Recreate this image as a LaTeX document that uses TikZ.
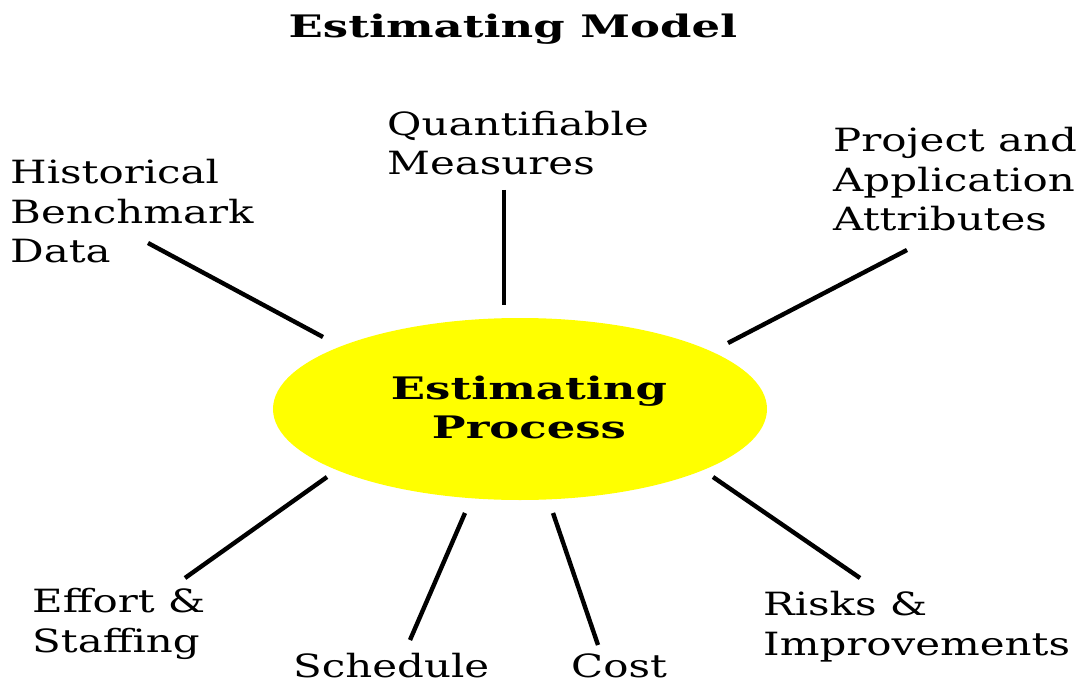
\documentclass[tikz,border=0pt]{standalone}
\usepackage{fontspec}
\usetikzlibrary{shapes.geometric}
\newfontfamily\labfont[FakeStretch=1.31]{DejaVu Serif}
\newfontfamily\headfont[FakeStretch=1.45]{DejaVu Serif Bold}
\definecolor{procyellow}{RGB}{255,255,0}
\begin{document}
\begin{tikzpicture}[x=1pt,y=-1pt,
  lab/.style={anchor=base west,inner sep=0pt,align=left,text depth=0pt,
    font=\labfont\fontsize{32}{39.5}\selectfont},
  head/.style={inner sep=0pt,align=center,
    font=\headfont\fontsize{31}{39}\selectfont},
  spoke/.style={line width=4.4pt}]
\useasboundingbox (0,0) rectangle (1091,684);
% title
\node[head,anchor=base] (title) at (513,38) {Estimating Model};
% central process
\node[ellipse,fill=procyellow,minimum width=494pt,minimum height=182pt,inner sep=0pt]
  (proc) at (520,409) {};
\node[head,anchor=base] (proctxt) at (529,438) {Estimating\\Process};
% inputs and outputs (anchored at the baseline of the last line)
\node[lab] (hist) at (10,263) {Historical\\Benchmark\\Data};
\node[lab] (quant) at (387,175) {Quantifiable\\Measures};
\node[lab] (proj) at (833,231) {Project and\\Application\\Attributes};
\node[lab] (effort) at (32,652) {Effort \&\\Staffing};
\node[lab] (sched) at (293,677) {Schedule};
\node[lab] (cost) at (571,677) {Cost};
\node[lab] (risks) at (763,655) {Risks \&\\Improvements};
% spoke end points
\coordinate (hist-e) at (148,243);  \coordinate (hist-p) at (323,337);
\coordinate (quant-e) at (504,190); \coordinate (quant-p) at (504,305);
\coordinate (proj-e) at (907,250);  \coordinate (proj-p) at (728,343);
\coordinate (effort-e) at (185,578);\coordinate (effort-p) at (327,477);
\coordinate (sched-e) at (410,640); \coordinate (sched-p) at (465,513);
\coordinate (cost-e) at (598,645);  \coordinate (cost-p) at (553,513);
\coordinate (risks-e) at (860,578); \coordinate (risks-p) at (713,477);
\foreach \s in {hist,quant,proj,effort,sched,cost,risks}
  \draw[spoke] (\s-e) -- (\s-p);
\end{tikzpicture}
\end{document}
